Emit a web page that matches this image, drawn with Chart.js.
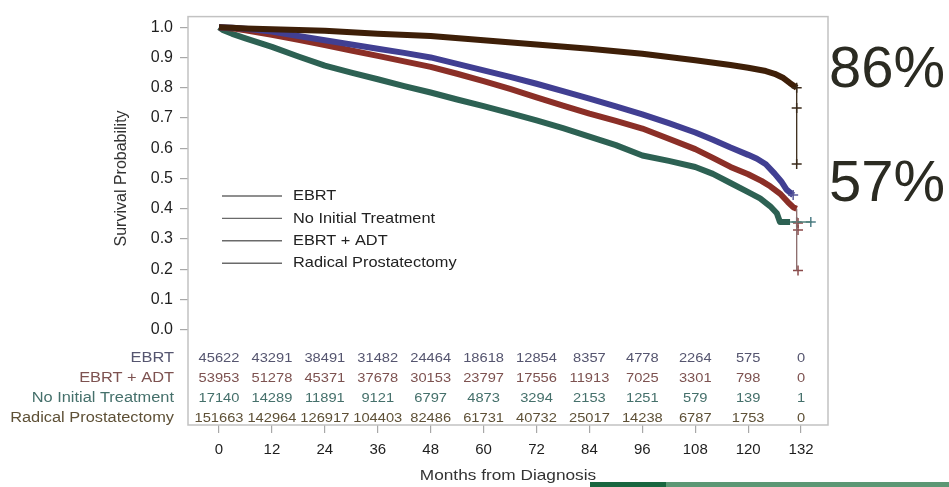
<!DOCTYPE html>
<html><head><meta charset="utf-8">
<script src="https://cdn.jsdelivr.net/npm/chart.js@4.4.1/dist/chart.umd.min.js"></script>
<style>html,body{margin:0;padding:0;background:#fff;overflow:hidden}</style>
</head><body>
<canvas id="c" width="949" height="487"></canvas>
<script>
// ---- tick labels / categories ----
const monthTicks = [0, 12, 24, 36, 48, 60, 72, 84, 96, 108, 120, 132];
const yTicks = [0, 0.1, 0.2, 0.3, 0.4, 0.5, 0.6, 0.7, 0.8, 0.9, 1.0];
const legendNames = ['EBRT', 'No Initial Treatment', 'EBRT + ADT', 'Radical Prostatectomy'];
const riskNames = ['EBRT', 'EBRT + ADT', 'No Initial Treatment', 'Radical Prostatectomy'];

// ---- survival curves (months, survival probability) ----
const ebrtMonths = [0, 3, 6, 12, 18, 24, 30, 36, 42, 48, 54, 60, 66, 72, 78, 84, 90, 96, 102, 108, 112, 116, 120, 122, 124, 126, 127.5, 128.7, 130.2];
const ebrtSurv   = [1.0, 0.998, 0.995, 0.986, 0.971, 0.957, 0.943, 0.929, 0.915, 0.900, 0.879, 0.857, 0.836, 0.813, 0.789, 0.764, 0.738, 0.712, 0.683, 0.652, 0.628, 0.602, 0.578, 0.565, 0.547, 0.516, 0.490, 0.463, 0.445];

const adtMonths = [0, 3, 6, 12, 18, 24, 30, 36, 42, 48, 54, 60, 66, 72, 78, 84, 90, 96, 102, 108, 112, 116, 120, 123, 125, 127.2, 129, 130.2, 131];
const adtSurv   = [1.0, 0.996, 0.990, 0.975, 0.958, 0.941, 0.923, 0.905, 0.887, 0.869, 0.846, 0.822, 0.796, 0.768, 0.741, 0.714, 0.690, 0.665, 0.631, 0.597, 0.568, 0.538, 0.514, 0.492, 0.474, 0.450, 0.422, 0.405, 0.400];

const nitMonths = [0, 1, 3, 6, 12, 18, 24, 30, 36, 42, 48, 54, 60, 66, 72, 78, 84, 90, 96, 102, 108, 112, 116, 120, 122.7, 125, 126.5, 127.2, 129.5];
const nitSurv   = [1.0, 0.990, 0.978, 0.963, 0.935, 0.903, 0.873, 0.850, 0.828, 0.805, 0.784, 0.761, 0.739, 0.716, 0.692, 0.666, 0.638, 0.610, 0.576, 0.558, 0.538, 0.515, 0.485, 0.455, 0.434, 0.408, 0.385, 0.356, 0.356];

const rpMonths = [0, 3, 6, 12, 24, 36, 48, 60, 72, 84, 96, 108, 116, 120, 124, 126, 128, 129.5, 131];
const rpSurv   = [1.0, 0.998, 0.996, 0.993, 0.988, 0.978, 0.971, 0.957, 0.943, 0.929, 0.912, 0.891, 0.875, 0.866, 0.855, 0.846, 0.832, 0.815, 0.800];

// ---- final drops / tails ----
const rpTailMonths  = [131, 131];
const rpTailSurv    = [0.800, 0.548];
const adtTailMonths = [131, 131];
const adtTailSurv   = [0.400, 0.196];
const nitTailMonths = [129.5, 134.4];
const nitTailSurv   = [0.356, 0.356];

// ---- censor marks ----
const rpCensMonths  = [131, 131, 131];
const rpCensSurv    = [0.800, 0.733, 0.548];
const adtCensMonths = [131.3, 131.3, 131.3];
const adtCensSurv   = [0.353, 0.330, 0.196];
const nitCensMonths = [131, 134.2];
const nitCensSurv   = [0.356, 0.356];
const ebrtCensMonths = [130.2];
const ebrtCensSurv   = [0.445];

// ---- numbers at risk ----
const atRiskEBRT = [45622, 43291, 38491, 31482, 24464, 18618, 12854, 8357, 4778, 2264, 575, 0];
const atRiskADT  = [53953, 51278, 45371, 37678, 30153, 23797, 17556, 11913, 7025, 3301, 798, 0];
const atRiskNIT  = [17140, 14289, 11891, 9121, 6797, 4873, 3294, 2153, 1251, 579, 139, 1];
const atRiskRP   = [151663, 142964, 126917, 104403, 82486, 61731, 40732, 25017, 14238, 6787, 1753, 0];

// ---- side annotations ----
const bigLabels = ['86%', '57%'];

const FONT = "'Liberation Sans', Arial, sans-serif";
const C = { ebrt: '#413f92', adt: '#8b2f27', nit: '#2d6153', rp: '#3e1f08' };
const riskColors = ['#55556f', '#7d5250', '#45706b', '#5e5036'];
const riskRows = [atRiskEBRT, atRiskADT, atRiskNIT, atRiskRP];

const pts = (xs, ys) => xs.map((m, i) => ({ x: m, y: ys[i] }));

function curve(label, xs, ys, color, order) {
  return { label, data: pts(xs, ys), borderColor: color, backgroundColor: color, borderWidth: 6,
    pointRadius: 0, tension: 0, fill: false, order, borderJoinStyle: 'round' };
}
function tail(xs, ys, color) {
  return { label: '', data: pts(xs, ys), borderColor: color, borderWidth: 1.3, pointRadius: 0, fill: false, order: 0 };
}
function cens(xs, ys, color) {
  return { label: '', data: pts(xs, ys), showLine: false, borderColor: color, backgroundColor: color,
    pointStyle: 'cross', pointRadius: 5, pointBorderWidth: 1.5, order: 0 };
}

function sText(ctx, s, x, y, sx, align) {
  ctx.save(); ctx.translate(x, y); ctx.scale(sx, 1); ctx.textAlign = align; ctx.fillText(s, 0, 0); ctx.restore();
}

const decor = {
  id: 'decor',
  afterDraw(chart) {
    const { ctx, chartArea: a, scales: { x, y } } = chart;
    ctx.save();
    // frame
    ctx.strokeStyle = '#c2c2c2'; ctx.lineWidth = 1.5;
    ctx.strokeRect(a.left, a.top, a.right - a.left, a.bottom - a.top);

    // legend (gray lines)
    ctx.textBaseline = 'middle';
    ctx.font = '15px ' + FONT;
    legendNames.forEach((n, i) => {
      const yy = 196 + i * 22.4;
      ctx.strokeStyle = '#6a6a6a'; ctx.lineWidth = 1.4;
      ctx.beginPath(); ctx.moveTo(a.left + 34, yy); ctx.lineTo(a.left + 94, yy); ctx.stroke();
      ctx.fillStyle = '#222';
      sText(ctx, n, a.left + 105, yy, 1.09, 'left');
    });

    // numbers at risk
    riskRows.forEach((row, r) => {
      const yy = a.bottom - 67 + r * 20;
      ctx.fillStyle = riskColors[r];
      ctx.font = '14px ' + FONT;
      sText(ctx, riskNames[r], a.left - 14, yy, 1.17, 'right');
      ctx.font = '13px ' + FONT;
      row.forEach((v, i) => sText(ctx, String(v), x.getPixelForValue(monthTicks[i]), yy, 1.13, 'center'));
    });

    // axis titles
    ctx.fillStyle = '#333';
    ctx.font = '15px ' + FONT;
    sText(ctx, 'Months from Diagnosis', (a.left + a.right) / 2, 476, 1.15, 'center');
    ctx.save();
    ctx.translate(122, (y.getPixelForValue(0) + y.getPixelForValue(1)) / 2);
    ctx.rotate(-Math.PI / 2);
    ctx.font = '16px ' + FONT; ctx.textAlign = 'center';
    ctx.fillText('Survival Probability', 0, 0);
    ctx.restore();

    // big percentages
    ctx.fillStyle = '#2b2b22';
    ctx.font = '58px ' + FONT; ctx.textAlign = 'left'; ctx.textBaseline = 'alphabetic';
    ctx.fillText(bigLabels[0], 829, 87);
    ctx.fillText(bigLabels[1], 829, 201);

    // green footer bar
    ctx.fillStyle = '#18663f'; ctx.fillRect(590, 482, 76, 5);
    ctx.fillStyle = '#5b9774'; ctx.fillRect(666, 482, 283, 5);
    ctx.restore();
  }
};

Chart.defaults.font.family = FONT;

new Chart(document.getElementById('c'), {
  type: 'line',
  data: {
    datasets: [
      curve('Radical Prostatectomy', rpMonths, rpSurv, C.rp, 1),
      curve('EBRT', ebrtMonths, ebrtSurv, C.ebrt, 2),
      curve('EBRT + ADT', adtMonths, adtSurv, C.adt, 3),
      curve('No Initial Treatment', nitMonths, nitSurv, C.nit, 4),
      tail(rpTailMonths, rpTailSurv, '#3a2a1a'),
      tail(adtTailMonths, adtTailSurv, '#8a6a6a'),
      tail(nitTailMonths, nitTailSurv, '#4f7f78'),
      cens(rpCensMonths, rpCensSurv, '#3a2a1a'),
      cens(adtCensMonths, adtCensSurv, '#8a4a4a'),
      cens(nitCensMonths, nitCensSurv, '#4f7f88'),
      cens(ebrtCensMonths, ebrtCensSurv, '#5a5a9a')
    ]
  },
  options: {
    responsive: false,
    animation: false,
    layout: { padding: { top: 11, right: 121, bottom: 0, left: 0 } },
    plugins: { legend: { display: false }, tooltip: { enabled: false } },
    scales: {
      x: {
        type: 'linear', min: -7.03, max: 138.1,
        afterBuildTicks: s => { s.ticks = monthTicks.map(v => ({ value: v })); },
        afterFit: s => { s.height = 62; },
        grid: { display: true, drawOnChartArea: false, drawTicks: true, tickLength: 8, color: '#a8a8a8', lineWidth: 1.2 },
        border: { display: false },
        ticks: { autoSkip: false, maxRotation: 0, padding: 8, color: '#1e1e1e', font: { size: 15 }, callback: v => String(v) }
      },
      y: {
        min: -0.315, max: 1.035,
        afterBuildTicks: s => { s.ticks = yTicks.map(v => ({ value: v })); },
        afterFit: s => { s.width = 188; },
        grid: { display: true, drawOnChartArea: false, drawTicks: true, tickLength: 8, color: '#a8a8a8', lineWidth: 1.2 },
        border: { display: false },
        ticks: { padding: 7, color: '#1e1e1e', font: { size: 16 }, callback: v => Number(v).toFixed(1) }
      }
    }
  },
  plugins: [decor]
});
</script>
</body></html>
